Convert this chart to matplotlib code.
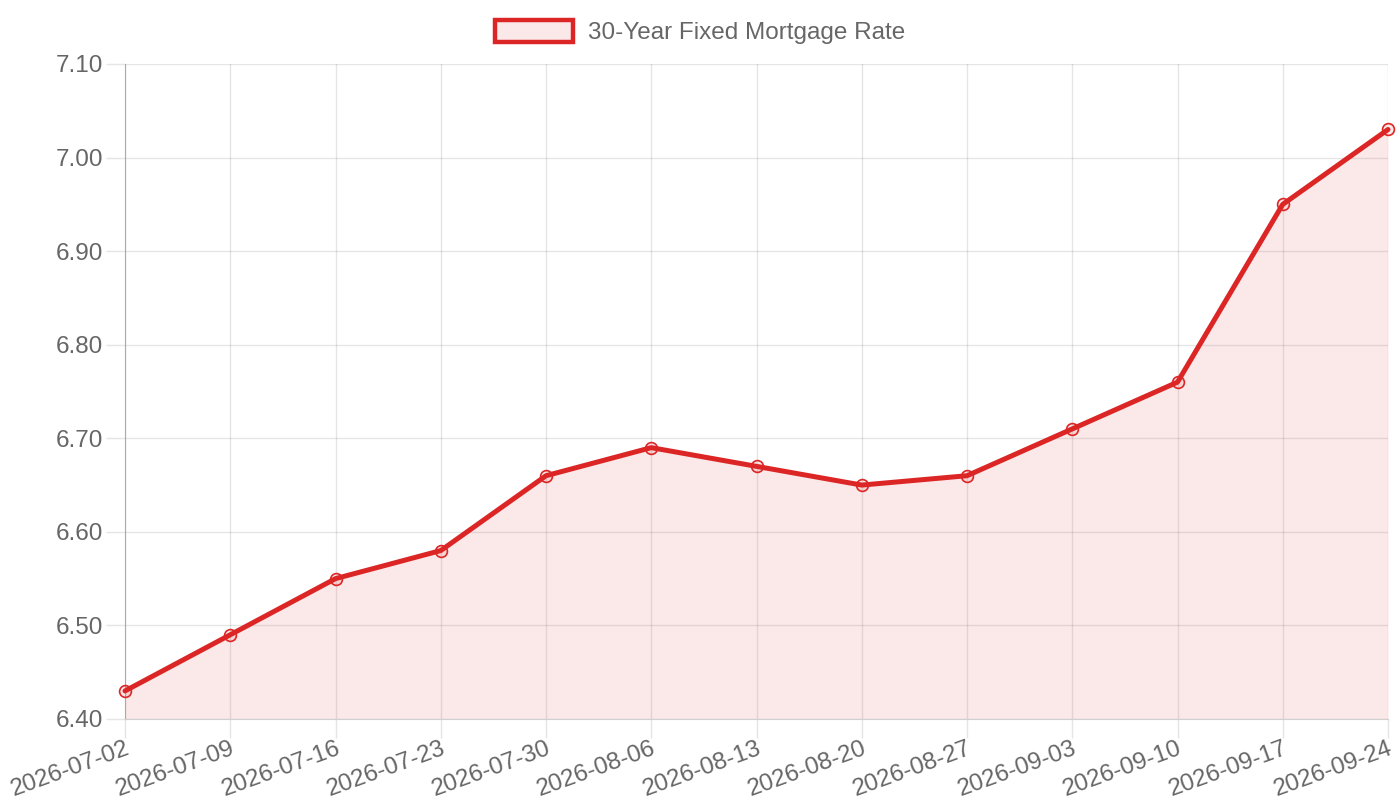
import matplotlib.pyplot as plt
from matplotlib.patches import Patch

plt.rcParams['font.family'] = ['Liberation Sans', 'DejaVu Sans']

dates = ['2026-07-02', '2026-07-09', '2026-07-16', '2026-07-23', '2026-07-30',
         '2026-08-06', '2026-08-13', '2026-08-20', '2026-08-27', '2026-09-03',
         '2026-09-10', '2026-09-17', '2026-09-24']
rates = [6.43, 6.49, 6.55, 6.58, 6.66, 6.69, 6.67, 6.65, 6.66, 6.71, 6.76, 6.95, 7.03]
y_ticks = [6.40, 6.50, 6.60, 6.70, 6.80, 6.90, 7.00, 7.10]

red = '#dc2626'
fill = (220 / 255, 38 / 255, 38 / 255, 0.1)
text_col = '#666666'
fs = 17.5

fig = plt.figure(figsize=(14, 8), dpi=100)
ax = fig.add_axes([125 / 1400, 1 - 719 / 800, (1388 - 125) / 1400, (719 - 64) / 800])

x = list(range(len(dates)))
ax.fill_between(x, rates, 6.40, color=fill, linewidth=0)
ax.plot(x, rates, color=red, linewidth=3.6, solid_capstyle='round', solid_joinstyle='round',
        zorder=3, clip_on=False)
ax.plot(x, rates, linestyle='none', marker='o', markersize=8.5, markerfacecolor=fill,
        markeredgecolor=red, markeredgewidth=1.2, zorder=4, clip_on=False)

ax.set_xlim(0, len(dates) - 1)
ax.set_ylim(6.40, 7.10)
ax.set_yticks(y_ticks)
ax.set_yticklabels([f'{v:.2f}' for v in y_ticks])
ax.set_xticks(x)
ax.set_xticklabels(dates, rotation=20, ha='right', rotation_mode='anchor')

ax.tick_params(axis='both', colors='#e5e5e5', labelcolor=text_col, labelsize=fs,
               length=14, width=1)
ax.tick_params(axis='y', pad=2)
ax.tick_params(axis='x', pad=-1)
ax.grid(True, color='black', alpha=0.1, linewidth=1)
ax.set_axisbelow(True)
for side in ['top', 'right']:
    ax.spines[side].set_visible(False)
ax.spines['left'].set_color('#aaaaaa')
ax.spines['bottom'].set_color('#d0d0d0')

handle = Patch(facecolor=fill, edgecolor=red, linewidth=3.2)
fig.legend([handle], ['30-Year Fixed Mortgage Rate'], loc='center', bbox_to_anchor=(0.5, 1 - 32 / 800),
           frameon=False, fontsize=fs, labelcolor=text_col, handlelength=3.2, handleheight=1.05,
           handletextpad=0.6)

fig.savefig('out.png', dpi=100)
